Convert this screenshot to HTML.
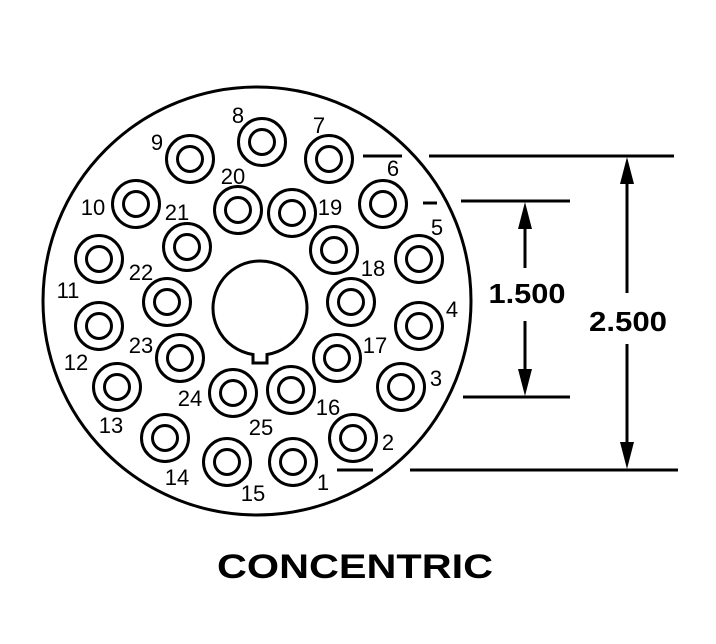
<!DOCTYPE html>
<html><head><style>html,body{margin:0;padding:0;background:#fff}svg{display:block}</style></head>
<body>
<svg width="716" height="644" viewBox="0 0 716 644" xmlns="http://www.w3.org/2000/svg">
<g fill="none" stroke="#000" stroke-width="3">
<circle cx="257" cy="301" r="214"/>
<path d="M253 354.5 A47 47 0 1 1 267 354.5 L267 363 L253 363 Z"/>
</g>
<g fill="none" stroke="#000" stroke-width="3">
<circle cx="262" cy="142" r="23.5"/><circle cx="262" cy="142" r="12.5"/>
<circle cx="329" cy="159" r="23.5"/><circle cx="329" cy="159" r="12.5"/>
<circle cx="190" cy="159" r="23.5"/><circle cx="190" cy="159" r="12.5"/>
<circle cx="383" cy="204" r="23.5"/><circle cx="383" cy="204" r="12.5"/>
<circle cx="136" cy="204" r="23.5"/><circle cx="136" cy="204" r="12.5"/>
<circle cx="238" cy="210" r="23.5"/><circle cx="238" cy="210" r="12.5"/>
<circle cx="292" cy="213" r="23.5"/><circle cx="292" cy="213" r="12.5"/>
<circle cx="187" cy="247" r="23.5"/><circle cx="187" cy="247" r="12.5"/>
<circle cx="334" cy="250" r="23.5"/><circle cx="334" cy="250" r="12.5"/>
<circle cx="419" cy="259" r="23.5"/><circle cx="419" cy="259" r="12.5"/>
<circle cx="99" cy="259" r="23.5"/><circle cx="99" cy="259" r="12.5"/>
<circle cx="167" cy="302" r="23.5"/><circle cx="167" cy="302" r="12.5"/>
<circle cx="351" cy="302" r="23.5"/><circle cx="351" cy="302" r="12.5"/>
<circle cx="419" cy="326" r="23.5"/><circle cx="419" cy="326" r="12.5"/>
<circle cx="99" cy="326" r="23.5"/><circle cx="99" cy="326" r="12.5"/>
<circle cx="180" cy="358" r="23.5"/><circle cx="180" cy="358" r="12.5"/>
<circle cx="337" cy="358" r="23.5"/><circle cx="337" cy="358" r="12.5"/>
<circle cx="401" cy="387" r="23.5"/><circle cx="401" cy="387" r="12.5"/>
<circle cx="117" cy="387" r="23.5"/><circle cx="117" cy="387" r="12.5"/>
<circle cx="233" cy="393" r="23.5"/><circle cx="233" cy="393" r="12.5"/>
<circle cx="291" cy="390" r="23.5"/><circle cx="291" cy="390" r="12.5"/>
<circle cx="353" cy="438" r="23.5"/><circle cx="353" cy="438" r="12.5"/>
<circle cx="165" cy="438" r="23.5"/><circle cx="165" cy="438" r="12.5"/>
<circle cx="227" cy="462" r="23.5"/><circle cx="227" cy="462" r="12.5"/>
<circle cx="293" cy="462" r="23.5"/><circle cx="293" cy="462" r="12.5"/>
</g>
<g stroke="#000" stroke-width="3">
<line x1="363" y1="156" x2="402" y2="156"/>
<line x1="429" y1="156" x2="674" y2="156"/>
<line x1="423" y1="203" x2="437" y2="203"/>
<line x1="461" y1="201" x2="570" y2="201"/>
<line x1="463" y1="397" x2="570" y2="397"/>
<line x1="337" y1="470" x2="373" y2="470"/>
<line x1="410" y1="470" x2="678" y2="470"/>
<line x1="627" y1="170" x2="627" y2="293"/>
<line x1="627" y1="344" x2="627" y2="456"/>
<line x1="525" y1="215" x2="525" y2="268"/>
<line x1="525" y1="321" x2="525" y2="383"/>
</g>
<g fill="#000">
<polygon points="627,157 620,184 634,184"/>
<polygon points="627,469 620,442 634,442"/>
<polygon points="525,202 518,229 532,229"/>
<polygon points="525,396 518,369 532,369"/>
</g>
<g font-family="Liberation Sans, Arial, sans-serif" font-size="22" text-anchor="middle" fill="#000">
<text x="238" y="123">8</text>
<text x="319" y="133">7</text>
<text x="157" y="150">9</text>
<text x="393" y="176">6</text>
<text x="233" y="184">20</text>
<text x="93" y="215">10</text>
<text x="177" y="220">21</text>
<text x="330" y="215">19</text>
<text x="437" y="235">5</text>
<text x="141" y="280">22</text>
<text x="373" y="276">18</text>
<text x="68" y="298">11</text>
<text x="452" y="317">4</text>
<text x="141" y="353">23</text>
<text x="375" y="353">17</text>
<text x="76" y="370">12</text>
<text x="436" y="386">3</text>
<text x="190" y="406">24</text>
<text x="328" y="415">16</text>
<text x="111" y="433">13</text>
<text x="261" y="435">25</text>
<text x="388" y="450">2</text>
<text x="177" y="485">14</text>
<text x="253" y="501">15</text>
<text x="323" y="490">1</text>
</g>
<g font-family="Liberation Sans, Arial, sans-serif" font-weight="bold" text-anchor="middle" fill="#000">
<text x="527" y="303" font-size="28" textLength="77" lengthAdjust="spacingAndGlyphs">1.500</text>
<text x="628" y="331" font-size="28" textLength="78" lengthAdjust="spacingAndGlyphs">2.500</text>
<text x="355" y="578" font-size="34" textLength="276" lengthAdjust="spacingAndGlyphs">CONCENTRIC</text>
</g>
</svg>
</body></html>
